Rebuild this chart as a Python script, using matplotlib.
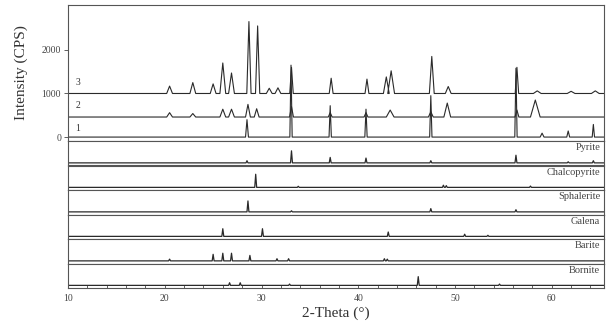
import matplotlib
matplotlib.use("Agg")
import matplotlib.pyplot as plt
import numpy as np

plt.rcParams['font.family'] = ['Liberation Serif', 'DejaVu Serif']

X_MIN, X_MAX = 10.0, 65.4

# ---- sample patterns (top panel), peak position (2θ), apex intensity (CPS), half width
s1_base = 0
s1_pos = [28.5, 33.05, 37.1, 40.8, 47.5, 56.3, 59.0, 61.7, 64.3]
s1_int = [400, 1650, 720, 640, 950, 1580, 90, 140, 290]
s1_hw = [0.15, 0.12, 0.12, 0.12, 0.12, 0.12, 0.2, 0.15, 0.12]

s2_base = 460
s2_pos = [20.5, 22.9, 26.0, 26.9, 28.6, 29.5, 33.1, 37.1, 40.8, 43.3, 47.5, 49.2, 56.4, 58.3]
s2_int = [560, 540, 640, 640, 750, 650, 700, 560, 560, 620, 580, 780, 620, 850]
s2_hw = [0.3, 0.3, 0.3, 0.3, 0.25, 0.25, 0.2, 0.2, 0.2, 0.4, 0.25, 0.35, 0.2, 0.5]

s3_base = 1000
s3_pos = [20.5, 22.9, 25.0, 26.0, 26.9, 28.7, 29.6, 30.8, 31.7, 33.1, 37.2, 40.9,
          42.9, 43.4, 47.6, 49.3, 56.4, 58.5, 62.0, 64.5]
s3_int = [1170, 1250, 1220, 1700, 1470, 2650, 2550, 1120, 1130, 1600, 1350, 1330,
          1380, 1520, 1850, 1160, 1600, 1060, 1050, 1060]
s3_hw = [0.3, 0.3, 0.3, 0.3, 0.3, 0.22, 0.22, 0.3, 0.3, 0.18, 0.2, 0.2,
         0.3, 0.35, 0.25, 0.3, 0.18, 0.4, 0.4, 0.4]

sample_labels = ['1', '2', '3']
sample_label_y = [200, 735, 1260]

# ---- reference patterns: name, peak positions, relative heights
ref_names = ['Pyrite', 'Chalcopyrite', 'Sphalerite', 'Galena', 'Barite', 'Bornite']
pyrite_pos = [28.5, 33.1, 37.1, 40.8, 47.5, 56.3, 61.7, 64.3]
pyrite_h = [0.10, 0.55, 0.25, 0.22, 0.10, 0.35, 0.05, 0.10]
chalco_pos = [29.4, 33.8, 48.8, 49.1, 57.8]
chalco_h = [0.60, 0.05, 0.10, 0.08, 0.06]
sphal_pos = [28.6, 33.1, 47.5, 56.3]
sphal_h = [0.50, 0.05, 0.15, 0.10]
galena_pos = [26.0, 30.1, 43.1, 51.0, 53.4]
galena_h = [0.35, 0.35, 0.20, 0.10, 0.05]
barite_pos = [20.5, 25.0, 26.0, 26.9, 28.8, 31.6, 32.8, 42.7, 43.0]
barite_h = [0.08, 0.30, 0.35, 0.35, 0.25, 0.10, 0.10, 0.10, 0.08]
bornite_pos = [26.7, 27.8, 32.9, 46.2, 54.6]
bornite_h = [0.12, 0.12, 0.06, 0.40, 0.06]
ref_pos = [pyrite_pos, chalco_pos, sphal_pos, galena_pos, barite_pos, bornite_pos]
ref_h = [pyrite_h, chalco_h, sphal_h, galena_h, barite_h, bornite_h]

x_ticks = [10, 20, 30, 40, 50, 60]
y_ticks = [0, 1000, 2000]


def profile(base, pos, height, hw):
    xs, ys = [X_MIN], [base]
    for p, h, w in sorted(zip(pos, height, hw)):
        xs += [p - w, p, p + w]
        ys += [base, h, base]
    xs.append(X_MAX)
    ys.append(base)
    return xs, ys


W, H = 611, 330
fig = plt.figure(figsize=(W / 100, H / 100), dpi=100)
left, right = 68 / W, 604 / W
top_px, split_px, bot_px = 5, 141, 288

line_c = '#2a2a2a'
frame_c = '#555555'

ax = fig.add_axes([left, 1 - split_px / H, right - left, (split_px - top_px) / H])
for base, pos, inten, hw in [(s1_base, s1_pos, s1_int, s1_hw),
                             (s2_base, s2_pos, s2_int, s2_hw),
                             (s3_base, s3_pos, s3_int, s3_hw)]:
    xs, ys = profile(base, pos, inten, hw)
    ax.plot(xs, ys, color=line_c, lw=0.8)
for lab, ly in zip(sample_labels, sample_label_y):
    ax.text(11.0, ly, lab, fontsize=7, color='#333333', ha='center', va='center')
ax.set_xlim(X_MIN, X_MAX)
ax.set_ylim(-90, 3030)
ax.set_yticks(y_ticks)
ax.set_yticklabels([str(v) for v in y_ticks], fontsize=7, color='#333333')
ax.set_xticks([])
ax.tick_params(axis='y', direction='out', length=3, width=0.6, pad=2, colors='#444444')
ax.set_ylabel('Intensity (CPS)', fontsize=11, color='#333333', labelpad=10)
ax.yaxis.set_label_coords(-0.075, 0.5)
for s in ax.spines.values():
    s.set_color(frame_c)
    s.set_linewidth(0.8)

n = len(ref_names)
ph = (bot_px - split_px) / n
for i, name in enumerate(ref_names):
    y0 = split_px + i * ph
    rax = fig.add_axes([left, 1 - (y0 + ph) / H, right - left, ph / H])
    hw = [0.1] * len(ref_pos[i])
    xs, ys = profile(0, ref_pos[i], ref_h[i], hw)
    rax.plot(xs, ys, color=line_c, lw=0.9)
    rax.set_xlim(X_MIN, X_MAX)
    rax.set_ylim(-0.12, 1.0)
    rax.set_yticks([])
    rax.text(0.993, 0.72, name, transform=rax.transAxes, ha='right', va='center',
             fontsize=7.5, color='#444444')
    for s in rax.spines.values():
        s.set_color(frame_c)
        s.set_linewidth(0.8)
    if i < n - 1:
        rax.set_xticks([])
    else:
        rax.set_xticks(x_ticks)
        rax.set_xticklabels([str(v) for v in x_ticks], fontsize=7, color='#333333')
        rax.set_xticks(np.arange(12, 66, 2), minor=True)
        rax.tick_params(axis='x', which='both', direction='in', length=2.5, width=0.6,
                        pad=4, colors='#444444')
        rax.set_xlabel('2-Theta (°)', fontsize=11, color='#333333', labelpad=3)

fig.savefig('out.png', dpi=100)
